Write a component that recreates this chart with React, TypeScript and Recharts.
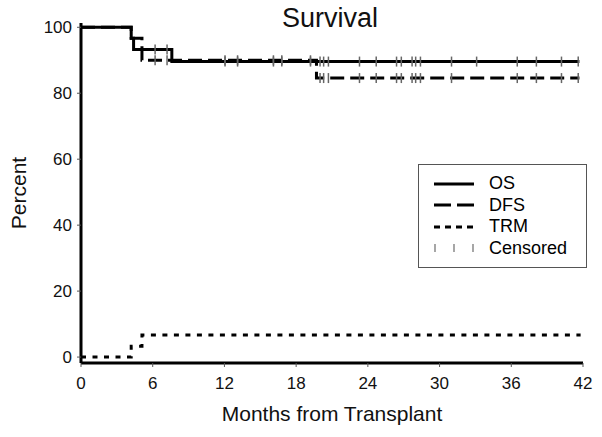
import React from 'react';
import { ComposedChart, Line, Scatter, XAxis, YAxis, Legend, Label } from 'recharts';

const title = 'Survival';
const xLabel = 'Months from Transplant';
const yLabel = 'Percent';
const xTicks = [0, 6, 12, 18, 24, 30, 36, 42];
const yTicks = [0, 20, 40, 60, 80, 100];

const osTimes = [0, 4.2, 4.4, 7.6, 41.7];
const osValues = [100, 96.7, 93.3, 89.6, 89.6];
const dfsTimes = [0, 4.2, 5.1, 19.7, 41.7];
const dfsValues = [100, 96.7, 90.0, 84.6, 84.6];
const trmTimes = [0, 4.2, 5.1, 41.8];
const trmValues = [0, 3.3, 6.7, 6.7];

const osCensorTimes = [6.2, 7.2, 12.05, 13.1, 16.1, 16.8, 19.2, 20.0, 20.3, 20.7, 23.3, 24.7, 26.4, 26.8, 27.7, 28.0, 28.4, 31.0, 33.1, 36.5, 38.1, 40.2, 41.6];
const dfsCensorTimes = [6.2, 7.2, 12.05, 13.1, 16.1, 16.8, 19.2, 20.0, 20.3, 20.7, 23.3, 24.7, 26.4, 26.8, 27.7, 28.0, 28.4, 31.0, 36.5, 38.1, 40.2, 41.6];

const legendNames = ['OS', 'DFS', 'TRM', 'Censored'];

const toSeries = (ts: number[], vs: number[]) => ts.map((t, i) => ({ x: t, y: vs[i] }));
const stepValue = (ts: number[], vs: number[], t: number) => {
  let v = vs[0];
  for (let i = 0; i < ts.length; i++) if (ts[i] <= t) v = vs[i];
  return v;
};

const osData = toSeries(osTimes, osValues);
const dfsData = toSeries(dfsTimes, dfsValues);
const trmData = toSeries(trmTimes, trmValues);
const osCensor = osCensorTimes.map((t) => ({ x: t, y: stepValue(osTimes, osValues, t) }));
const dfsCensor = dfsCensorTimes.map((t) => ({ x: t, y: stepValue(dfsTimes, dfsValues, t) }));

const FONT = '"Liberation Sans", Arial, Helvetica, sans-serif';

const CensorMark = (p: any) => (
  <line x1={p.cx} x2={p.cx} y1={p.cy - 5} y2={p.cy + 5} stroke="#666" strokeWidth={1.5} />
);

const LegendBox = () => {
  const samples = [
    <line x1={0} x2={40} y1={5} y2={5} stroke="#000" strokeWidth={3} />,
    <line x1={0} x2={40} y1={5} y2={5} stroke="#000" strokeWidth={3} strokeDasharray="17 6" />,
    <line x1={0} x2={40} y1={5} y2={5} stroke="#000" strokeWidth={3} strokeDasharray="6 5" />,
    <g stroke="#777" strokeWidth={1.3}>
      <line x1={1} x2={1} y1={1} y2={9} />
      <line x1={20} x2={20} y1={1} y2={9} />
      <line x1={39} x2={39} y1={1} y2={9} />
    </g>,
  ];
  return (
    <div
      style={{
        border: '1.5px solid #555',
        padding: '8px 0 8px 15px',
        boxSizing: 'border-box',
        width: 169,
        background: '#fff',
        fontFamily: FONT,
        fontSize: 18,
        color: '#000',
      }}
    >
      {legendNames.map((n, i) => (
        <div key={n} style={{ display: 'flex', alignItems: 'center', height: 21.5 }}>
          <svg width={40} height={10} style={{ marginRight: 15, overflow: 'visible' }}>
            {samples[i]}
          </svg>
          <span style={{ lineHeight: '21.5px' }}>{n}</span>
        </div>
      ))}
    </div>
  );
};

export default function App() {
  return (
    <div style={{ position: 'absolute', left: 0, top: 0, width: 602, height: 437, background: '#fff' }}>
      <div
        style={{
          position: 'absolute',
          top: 5,
          left: 230,
          width: 200,
          textAlign: 'center',
          fontFamily: FONT,
          fontSize: 27,
          lineHeight: '27px',
          color: '#111',
        }}
      >
        {title}
      </div>
      <ComposedChart
        width={602}
        height={437}
        margin={{ top: 23, right: 19, bottom: 0, left: 0 }}
        style={{ fontFamily: FONT }}
      >
        <XAxis
          type="number"
          dataKey="x"
          domain={[0, 42]}
          ticks={xTicks}
          height={74}
          tickSize={4}
          tickMargin={10}
          axisLine={{ stroke: '#000', strokeWidth: 3 }}
          tickLine={{ stroke: '#555', strokeWidth: 1 }}
          tick={{ fill: '#111', fontSize: 17, fontFamily: FONT }}
        >
          <Label value={xLabel} position="insideBottom" offset={16} style={{ fontSize: 21, fill: '#111', fontFamily: FONT }} />
        </XAxis>
        <YAxis
          type="number"
          dataKey="y"
          domain={[-1.8, 101.3]}
          ticks={yTicks}
          width={81}
          tickSize={4}
          tickMargin={5}
          axisLine={{ stroke: '#000', strokeWidth: 3 }}
          tickLine={{ stroke: '#555', strokeWidth: 1 }}
          tick={{ fill: '#111', fontSize: 17, fontFamily: FONT }}
        >
          <Label
            value={yLabel}
            angle={-90}
            position="insideLeft"
            offset={19}
            style={{ fontSize: 21, fill: '#111', fontFamily: FONT, textAnchor: 'middle' }}
          />
        </YAxis>
        <Line
          data={trmData}
          dataKey="y"
          type="stepAfter"
          stroke="#000"
          strokeWidth={3}
          strokeDasharray="5 6.5"
          dot={false}
          activeDot={false}
          isAnimationActive={false}
        />
        <Line
          data={dfsData}
          dataKey="y"
          type="stepAfter"
          stroke="#000"
          strokeWidth={3}
          strokeDasharray="14 6"
          dot={false}
          activeDot={false}
          isAnimationActive={false}
        />
        <Line
          data={osData}
          dataKey="y"
          type="stepAfter"
          stroke="#000"
          strokeWidth={3}
          dot={false}
          activeDot={false}
          isAnimationActive={false}
        />
        <Scatter data={dfsCensor} dataKey="y" shape={CensorMark} isAnimationActive={false} />
        <Scatter data={osCensor} dataKey="y" shape={CensorMark} isAnimationActive={false} />
        <Legend
          layout="vertical"
          align="center"
          verticalAlign="middle"
          content={() => <LegendBox />}
          wrapperStyle={{ position: 'absolute', top: 164, left: 418, width: 169 }}
        />
      </ComposedChart>
    </div>
  );
}
